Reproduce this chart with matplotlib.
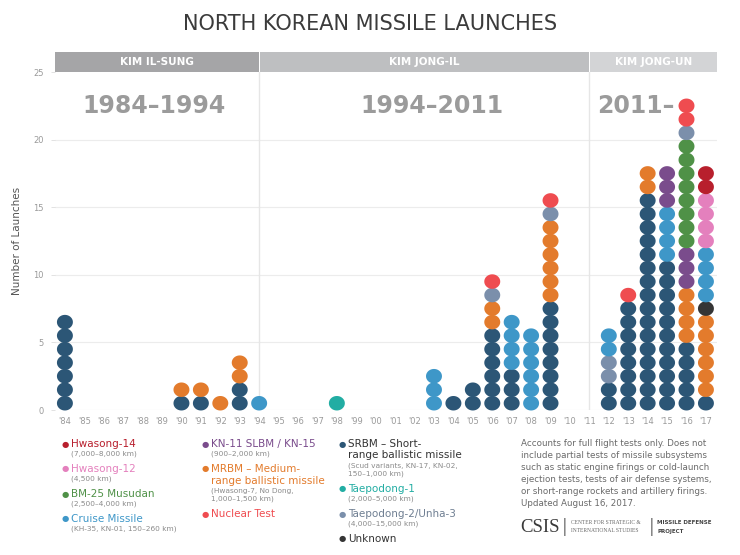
import numpy as np
import matplotlib.pyplot as plt
from matplotlib.path import Path
from matplotlib.patches import Rectangle

# colours per missile type
colors = {
    'H14': '#b81f2d', 'H12': '#e480bd', 'BM25': '#4f9147', 'CRU': '#3e97c8',
    'KN11': '#7a4c8c', 'MRBM': '#e37b2c', 'NUC': '#ef4c50', 'SRBM': '#2c5676',
    'TD1': '#22ada3', 'TD2': '#7b8fab', 'UNK': '#353535',
}

# launches per year, bottom -> top
years = [1984, 1990, 1991, 1992, 1993, 1994, 1998, 2003, 2004, 2005, 2006,
         2007, 2008, 2009, 2012, 2013, 2014, 2015, 2016, 2017]
stacks = [
    ['SRBM'] * 7,
    ['SRBM', 'MRBM'],
    ['SRBM', 'MRBM'],
    ['MRBM'],
    ['SRBM'] * 2 + ['MRBM'] * 2,
    ['CRU'],
    ['TD1'],
    ['CRU'] * 3,
    ['SRBM'],
    ['SRBM'] * 2,
    ['SRBM'] * 6 + ['MRBM'] * 2 + ['TD2', 'NUC'],
    ['SRBM'] * 3 + ['CRU'] * 4,
    ['CRU'] * 6,
    ['SRBM'] * 8 + ['MRBM'] * 6 + ['TD2', 'NUC'],
    ['SRBM'] * 2 + ['TD2'] * 2 + ['CRU'] * 2,
    ['SRBM'] * 8 + ['NUC'],
    ['SRBM'] * 16 + ['MRBM'] * 2,
    ['SRBM'] * 11 + ['CRU'] * 4 + ['KN11'] * 3,
    ['SRBM'] * 5 + ['MRBM'] * 4 + ['KN11'] * 3 + ['BM25'] * 8 + ['TD2'] + ['NUC'] * 2,
    ['SRBM'] + ['MRBM'] * 6 + ['UNK'] + ['CRU'] * 4 + ['H12'] * 4 + ['H14'] * 2,
]
all_years = list(range(1984, 2018))

eras = ['KIM IL-SUNG', 'KIM JONG-IL', 'KIM JONG-UN']
era_bounds = [1994, 2011]
era_labels = ['1984\u20131994', '1994\u20132011', '2011\u2013']

# legend: (key, name lines, detail lines)
legend_cols = [
    [('H14', ['Hwasong-14'], ['(7,000\u20138,000 km)']),
     ('H12', ['Hwasong-12'], ['(4,500 km)']),
     ('BM25', ['BM-25 Musudan'], ['(2,500\u20134,000 km)']),
     ('CRU', ['Cruise Missile'], ['(KH-35, KN-01, 150\u2013260 km)'])],
    [('KN11', ['KN-11 SLBM / KN-15'], ['(900\u20132,000 km)']),
     ('MRBM', ['MRBM \u2013 Medium-', 'range ballistic missile'],
      ['(Hwasong-7, No Dong,', '1,000\u20131,500 km)']),
     ('NUC', ['Nuclear Test'], [])],
    [('SRBM', ['SRBM \u2013 Short-', 'range ballistic missile'],
      ['(Scud variants, KN-17, KN-02,', '150\u20131,000 km)']),
     ('TD1', ['Taepodong-1'], ['(2,000\u20135,000 km)']),
     ('TD2', ['Taepodong-2/Unha-3'], ['(4,000\u201315,000 km)']),
     ('UNK', ['Unknown'], [])],
]
text_colors = dict(colors, SRBM='#333333', TD2='#6f7f92', UNK='#333333')

notes = ['Accounts for full flight tests only. Does not',
         'include partial tests of missile subsystems',
         'such as static engine firings or cold-launch',
         'ejection tests, tests of air defense systems,',
         'or short-range rockets and artillery firings.',
         'Updated August 16, 2017.']

plt.rcParams['font.family'] = ['DejaVu Sans']
W, H = 740, 555
fig = plt.figure(figsize=(W / 100, H / 100), dpi=100)

def fx(px):
    return px / W

def fy(py):
    return 1 - py / H

ax = fig.add_axes([fx(55), fy(410), fx(717) - fx(55), fy(72) - fy(410)])
x0, x1 = 1983.49, 2017.57
ax.set_xlim(x0, x1)
ax.set_ylim(0, 25)

# slightly wide dot, like the original
t = np.linspace(0, 2 * np.pi, 64)
dot = Path(np.column_stack([1.1 * np.cos(t), np.sin(t)]), closed=True)

xs, ys, cs = [], [], []
for yr, st in zip(years, stacks):
    for i, k in enumerate(st):
        xs.append(yr)
        ys.append(i + 0.5)
        cs.append(colors[k])
ax.scatter(xs, ys, s=132, c=cs, marker=dot, linewidths=0, zorder=3, clip_on=False)

# grid + era separators
for v in [5, 10, 15, 20]:
    ax.axhline(v, color='#ececec', lw=0.8, zorder=0)
ax.axhline(0, color='#e4e4e4', lw=0.8, zorder=0)
for b in era_bounds:
    ax.axvline(b, ymin=0, ymax=1, color='#e6e6e6', lw=1, zorder=1)

# header band
band_cols = ['#a5a5a7', '#bebfc1', '#d3d4d6']
edges = [x0] + era_bounds + [x1]
for i in range(3):
    a, b = edges[i], edges[i + 1]
    ax.add_patch(Rectangle((a + (0.03 if i else 0), 25), b - a - (0.03 if i else 0), 1.48,
                           color=band_cols[i], clip_on=False, lw=0))
    ax.text((a + b) / 2, 25.74, eras[i], ha='center', va='center', color='white',
            fontsize=7.5, fontweight='bold')

# period labels
ax.text(1988.6, 22.5, era_labels[0], ha='center', va='center', color='#9b9b9b',
        fontsize=17, fontweight='bold')
ax.text(2002.9, 22.5, era_labels[1], ha='center', va='center', color='#9b9b9b',
        fontsize=17, fontweight='bold')
ax.text(2011.4, 22.5, era_labels[2], ha='left', va='center', color='#9b9b9b',
        fontsize=17, fontweight='bold')

ax.set_xticks(all_years)
ax.set_xticklabels(["'" + str(y)[2:] for y in all_years])
ax.set_yticks(range(0, 26, 5))
ax.tick_params(axis='x', length=0, pad=5, labelsize=6, labelcolor='#9a9a9a')
ax.tick_params(axis='y', length=3, width=0.6, color='#dddddd', pad=5,
               labelsize=6, labelcolor='#9a9a9a')
for s in ax.spines.values():
    s.set_visible(False)
ax.set_ylabel('Number of Launches', fontsize=7.5, color='#555555', labelpad=8)

fig.text(0.5, fy(24), 'NORTH KOREAN MISSILE LAUNCHES', ha='center', va='center',
         fontsize=15, color='#3b3b3b')

# legend
col_x = [65, 205, 342]
for cx, col in zip(col_x, legend_cols):
    y = 444
    for key, names, details in col:
        fig.text(fx(cx), fy(y), '\u25cf', ha='center', va='center', fontsize=6,
                 color=colors[key])
        for n in names:
            fig.text(fx(cx + 6), fy(y), n, ha='left', va='center', fontsize=7.5,
                     color=text_colors[key])
            y += 11.5
        y -= 1.5
        for d in details:
            fig.text(fx(cx + 6), fy(y), d, ha='left', va='center', fontsize=5.3,
                     color='#8a8a8a')
            y += 8.5
        y += 6.5

for i, line in enumerate(notes):
    fig.text(fx(521), fy(443 + 12 * i), line, ha='left', va='center', fontsize=6.3,
             color='#6a6a6a')

# CSIS footer
fig.text(fx(520), fy(527), 'CSIS', ha='left', va='center', fontsize=13.5,
         family='Liberation Serif', color='#3a3a3a')
fig.text(fx(565), fy(527), '|', ha='center', va='center', fontsize=12, color='#777777')
fig.text(fx(571), fy(523), 'CENTER FOR STRATEGIC &', ha='left', va='center',
         fontsize=4, family='Liberation Serif', color='#666666')
fig.text(fx(571), fy(531), 'INTERNATIONAL STUDIES', ha='left', va='center',
         fontsize=4, family='Liberation Serif', color='#666666')
fig.text(fx(652), fy(527), '|', ha='center', va='center', fontsize=12, color='#777777')
fig.text(fx(657), fy(523), 'MISSILE DEFENSE', ha='left', va='center',
         fontsize=4, fontweight='bold', color='#444444')
fig.text(fx(657), fy(531), 'PROJECT', ha='left', va='center',
         fontsize=4, fontweight='bold', color='#444444')

fig.savefig('out.png', dpi=100)
